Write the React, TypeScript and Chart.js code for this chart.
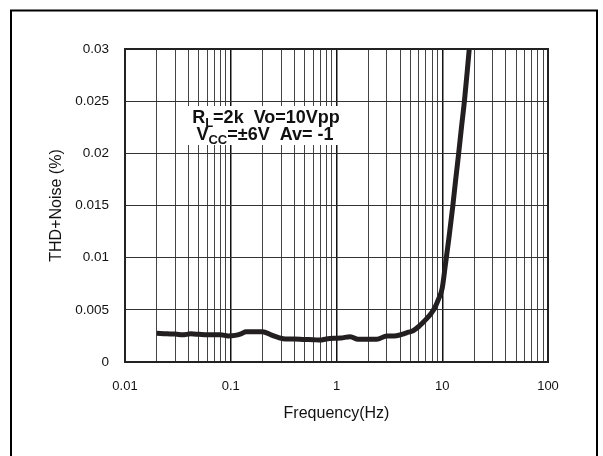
import React, { useEffect, useRef } from "react";
import { Chart, registerables } from "chart.js";

Chart.register(...registerables);

const frequencyHz = [
  0.02, 0.025, 0.03, 0.035, 0.042, 0.05, 0.06, 0.07, 0.08, 0.095, 0.11, 0.125, 0.14, 0.17, 0.2,
  0.24, 0.28, 0.33, 0.4, 0.5, 0.6, 0.7, 0.8, 0.95, 1.1, 1.35, 1.6, 2.0, 2.4, 3.0, 3.5, 4.0, 4.6,
  5.3, 6.0, 6.6, 7.2, 7.9, 8.5, 9.2, 10, 10.7, 11.6, 12.6, 13.4, 14.3, 15.2, 16.2, 17.1, 18.0, 18.6,
];
const thdNoise = [
  0.00275, 0.0027, 0.00268, 0.0026, 0.0027, 0.00265, 0.0026, 0.0026, 0.0026, 0.0025, 0.00255,
  0.0027, 0.0029, 0.0029, 0.0029, 0.0026, 0.00236, 0.0022, 0.0022, 0.00215, 0.00214, 0.0021,
  0.0022, 0.00227, 0.0023, 0.00243, 0.00217, 0.00217, 0.00217, 0.0025, 0.0025, 0.0026, 0.0028,
  0.003, 0.0034, 0.0038, 0.0042, 0.0047, 0.0052, 0.006, 0.0071, 0.0093, 0.012, 0.015, 0.0175,
  0.02, 0.0225, 0.025, 0.0275, 0.03, 0.0318,
];
const yTicks = [0, 0.005, 0.01, 0.015, 0.02, 0.025, 0.03];
const xDecades = [0.01, 0.1, 1, 10, 100];
const xDecadeLabels = ["0.01", "0.1", "1", "10", "100"];
const noteLine1 = { main: "R", sub: "L", rest: "=2k  Vo=10Vpp" };
const noteLine2 = { main: "V", sub: "CC", rest: "=±6V  Av= -1" };
const xTitle = "Frequency(Hz)";
const yTitle = "THD+Noise (%)";

const FONT = "'Liberation Sans', Arial, sans-serif";

function isDecade(v: number) {
  return xDecades.some((d) => Math.abs(v / d - 1) < 1e-6);
}

export default function App() {
  const ref = useRef<HTMLCanvasElement | null>(null);

  useEffect(() => {
    const canvas = ref.current;
    if (!canvas) return;

    const allXTicks: number[] = [];
    for (let i = 0; i < xDecades.length - 1; i++) {
      for (let m = 1; m <= 9; m++) allXTicks.push(xDecades[i] * m);
    }
    allXTicks.push(xDecades[xDecades.length - 1]);

    const decorations = {
      id: "decorations",
      afterDatasetsDraw(chart: any) {
        const { ctx, chartArea } = chart;
        ctx.save();
        ctx.strokeStyle = "#222";
        ctx.lineWidth = 2;
        ctx.strokeRect(chartArea.left, chartArea.top, chartArea.right - chartArea.left, chartArea.bottom - chartArea.top);
        ctx.fillStyle = "#fff";
        ctx.fillRect(186, 106, 161, 39);
        ctx.fillStyle = "#111";
        ctx.textBaseline = "alphabetic";
        const drawLine = (l: { main: string; sub: string; rest: string }, cx: number, by: number) => {
          const big = `bold 18px ${FONT}`;
          const small = `bold 13px ${FONT}`;
          ctx.font = big;
          const w1 = ctx.measureText(l.main).width;
          const w3 = ctx.measureText(l.rest).width;
          ctx.font = small;
          const w2 = ctx.measureText(l.sub).width;
          let x = cx - (w1 + w2 + w3) / 2;
          ctx.font = big;
          ctx.fillText(l.main, x, by);
          x += w1;
          ctx.font = small;
          ctx.fillText(l.sub, x, by + 4);
          x += w2;
          ctx.font = big;
          ctx.fillText(l.rest, x, by);
        };
        drawLine(noteLine1, 266, 123);
        drawLine(noteLine2, 265, 140);
        ctx.restore();
      },
      afterDraw(chart: any) {
        const { ctx } = chart;
        ctx.save();
        ctx.strokeStyle = "#000";
        ctx.lineWidth = 2;
        ctx.beginPath();
        ctx.moveTo(11, 470);
        ctx.lineTo(11, 10.5);
        ctx.lineTo(597, 10.5);
        ctx.lineTo(597, 470);
        ctx.stroke();
        ctx.restore();
      },
    };

    const chart = new Chart(canvas, {
      type: "line",
      data: {
        datasets: [
          {
            data: frequencyHz.map((f, i) => ({ x: f, y: thdNoise[i] })),
            borderColor: "#231f20",
            borderWidth: 5,
            pointRadius: 0,
            cubicInterpolationMode: "monotone",
            clip: 0,
            fill: false,
          } as any,
        ],
      },
      options: {
        animation: false,
        responsive: false,
        devicePixelRatio: 1,
        layout: { padding: { left: 0, top: 49, right: 55, bottom: 0 } },
        plugins: { legend: { display: false }, tooltip: { enabled: false } },
        scales: {
          x: {
            type: "logarithmic",
            min: 0.01,
            max: 100,
            afterBuildTicks(scale: any) {
              scale.ticks = allXTicks.map((v) => ({ value: v }));
            },
            afterFit(scale: any) {
              scale.height = 94;
            },
            grid: {
              drawTicks: false,
              color: (c: any) => (c.tick && isDecade(c.tick.value) ? "#111" : "#444"),
              lineWidth: (c: any) => (c.tick && isDecade(c.tick.value) ? 1.5 : 1),
            },
            border: { display: true, color: "#222", width: 2 },
            ticks: {
              autoSkip: false,
              maxRotation: 0,
              padding: 17,
              color: "#111",
              font: { family: FONT, size: 13 },
              callback: (v: any) => {
                const idx = xDecades.findIndex((d) => Math.abs(Number(v) / d - 1) < 1e-6);
                return idx >= 0 ? xDecadeLabels[idx] : "";
              },
            },
            title: {
              display: true,
              text: xTitle,
              color: "#111",
              font: { family: FONT, size: 16 },
              padding: { top: 0, bottom: 33 },
            },
          },
          y: {
            type: "linear",
            min: 0,
            max: 0.03,
            afterBuildTicks(scale: any) {
              scale.ticks = yTicks.map((v) => ({ value: v }));
            },
            afterFit(scale: any) {
              scale.width = 125;
            },
            grid: { drawTicks: false, color: "#333", lineWidth: 1 },
            border: { display: true, color: "#222", width: 2 },
            ticks: {
              padding: 16,
              color: "#111",
              font: { family: FONT, size: 13.5 },
              callback: (v: any) => String(Number(Number(v).toFixed(4))),
            },
            title: {
              display: true,
              text: yTitle,
              color: "#111",
              font: { family: FONT, size: 16 },
              padding: { top: 47, bottom: 0 },
            },
          },
        },
      },
      plugins: [decorations],
    });

    return () => chart.destroy();
  }, []);

  return (
    <div style={{ position: "fixed", left: 0, top: 0, width: 603, height: 456, background: "#fff" }}>
      <canvas ref={ref} width={603} height={456} style={{ display: "block", width: 603, height: 456 }} />
    </div>
  );
}
